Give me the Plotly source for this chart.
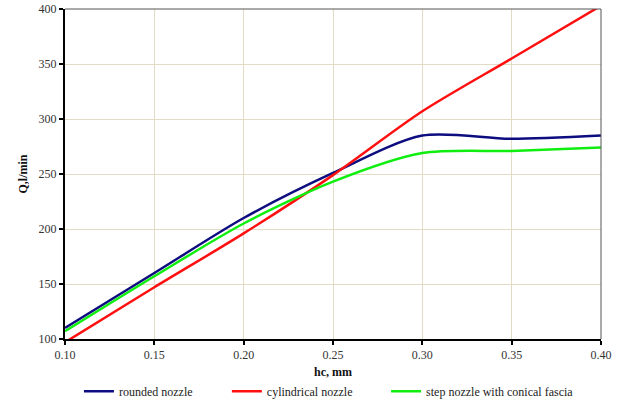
import plotly.graph_objects as go

hc = [0.10, 0.15, 0.20, 0.25, 0.30, 0.35, 0.40]
rounded = [110, 160, 210, 251, 285, 282, 285]
cylindrical = [97, 147, 196, 249, 307, 355, 403]
step = [107, 157, 205, 243, 269, 271, 274]
x_ticks = [0.10, 0.15, 0.20, 0.25, 0.30, 0.35, 0.40]
y_ticks = [100, 150, 200, 250, 300, 350, 400]

font = "Liberation Serif"
fig = go.Figure()
series = [("rounded nozzle", rounded, "#0d0d80", "legend", 0.026),
          ("cylindrical nozzle", cylindrical, "#ff1010", "legend2", 0.302),
          ("step nozzle with conical fascia", step, "#10ee10", "legend3", 0.599)]
for name, ys, col, lg, _ in series:
    fig.add_trace(go.Scatter(x=hc, y=ys, mode="lines", name=name, legend=lg,
                             line=dict(color=col, width=2.5, shape="spline", smoothing=0.8)))

legend_common = dict(orientation="h", xanchor="left", y=-0.158, yanchor="middle",
                     font=dict(family=font, size=12, color="#222"),
                     itemwidth=30, bgcolor="rgba(0,0,0,0)")
fig.update_layout(
    width=620, height=403,
    margin=dict(l=65, r=19, t=9, b=64, autoexpand=False),
    paper_bgcolor="white", plot_bgcolor="white",
    font=dict(family=font, size=12, color="#333"),
    showlegend=True,
    legend=dict(x=series[0][4], **legend_common),
    legend2=dict(x=series[1][4], **legend_common),
    legend3=dict(x=series[2][4], **legend_common),
    xaxis=dict(range=[0.10, 0.40], tickvals=x_ticks, tickformat=".2f",
               showgrid=True, gridcolor="#e2dcc6", gridwidth=1,
               showline=True, linecolor="black", linewidth=2, mirror=False,
               ticks="outside", ticklen=4, tickcolor="black", tickwidth=2,
               zeroline=False, automargin=False,
               title=dict(text="<b>hc, mm</b>", font=dict(family=font, size=12, color="#111"), standoff=6)),
    yaxis=dict(range=[100, 400], tickvals=y_ticks,
               showgrid=True, gridcolor="#e2dcc6", gridwidth=1,
               showline=True, linecolor="black", linewidth=2, mirror=False,
               ticks="outside", ticklen=4, tickcolor="black", tickwidth=2,
               zeroline=False, automargin=False,
               title=dict(text="<b>Q,l/min</b>", font=dict(family=font, size=12, color="#111"), standoff=8)),
)
fig.add_shape(type="line", xref="paper", yref="paper", x0=0, x1=1, y0=1, y1=1,
              line=dict(color="#555", width=1))
fig.add_shape(type="line", xref="paper", yref="paper", x0=1, x1=1, y0=0, y1=1,
              line=dict(color="#555", width=1))
fig.write_html("out.html", config={"displayModeBar": False},
               post_script="document.body.style.margin='0';")
